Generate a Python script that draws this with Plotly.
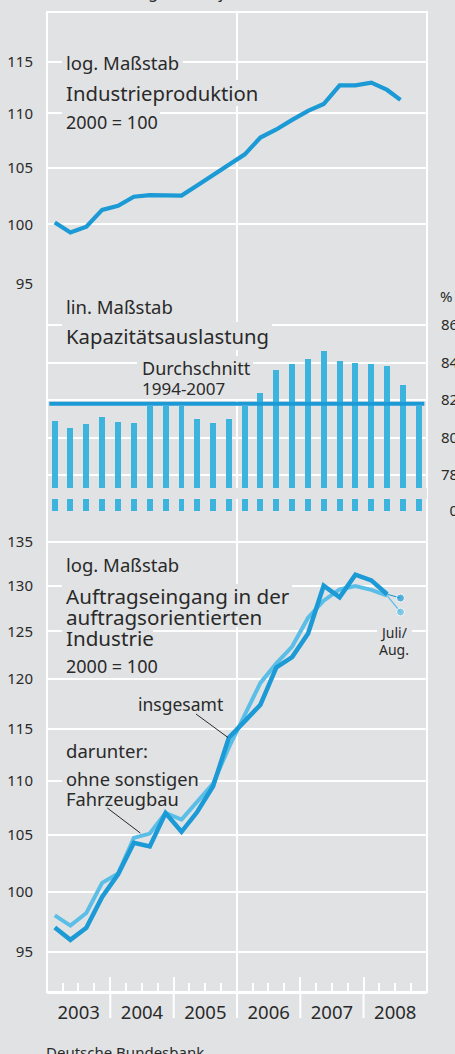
import math
import plotly.graph_objects as go

# ---------------- data ----------------
years = [2003, 2004, 2005, 2006, 2007, 2008]
quarters = [f"{y}Q{q}" for y in years for q in (1, 2, 3, 4)]
julaug = "2008-08-01"          # Juli/August 2008

# Industrieproduktion, 2000 = 100 (2003Q1 .. 2008Q2, then Juli/Aug.)
ip_values = [100.15, 99.3, 99.8, 101.25, 101.6, 102.4, 102.55, 102.55, 102.5,
             103.4, 104.3, 105.2, 106.2, 107.75, 108.5, 109.4, 110.25, 110.9,
             112.7, 112.7, 112.95, 112.25, 111.3]

# Kapazitätsauslastung in % (2003Q1 .. 2008Q4)
cap_values = [80.9, 80.5, 80.7, 81.1, 80.85, 80.8, 81.7, 81.7, 81.7, 81.0, 80.8, 81.0,
              81.7, 82.4, 83.6, 83.9, 84.2, 84.6, 84.1, 84.0, 83.9, 83.8, 82.8, 81.7]
cap_avg = 81.8   # Durchschnitt 1994-2007

# Auftragseingang, 2000 = 100 (2003Q1 .. 2008Q2)
ord_total = [97.0, 95.97, 96.96, 99.56, 101.52, 104.29, 103.96, 106.99, 105.28, 107.08,
             109.47, 114.12, 115.75, 117.39, 121.2, 122.29, 124.78, 130.0, 128.72,
             131.23, 130.59, 129.05]
ord_total_julaug = 128.63
ord_excl = [98.0, 97.15, 98.2, 100.77, 101.58, 104.73, 105.12, 107.0, 106.39, 108.0,
            109.72, 113.17, 116.4, 119.61, 121.62, 123.39, 126.48, 128.34, 129.58,
            129.95, 129.54, 128.89]
ord_excl_julaug = 127.1

ip_ticks = [95, 100, 105, 110, 115]
ord_ticks = [95, 100, 105, 110, 115, 120, 125, 130, 135]
cap_ticks = [78, 80, 82, 84, 86]
cap_tick_labels = ["78", "80", "82", "84", "86"]

# ---------------- helpers ----------------
MID = {1: "02-15", 2: "05-16", 3: "08-16", 4: "11-15"}
def qmid(q):
    y, n = q.split("Q")
    return f"{y}-{MID[int(n)]}"

q_dates = [qmid(q) for q in quarters]
n_ord = len(ord_total)
ip_dates = q_dates[:len(ip_values) - 1] + [julaug]

BG = "#e1e2e4"
DARK = "#1b9ad6"
LIGHT = "#5bbee6"
BARC = "#3db4de"
TXT = "#2a2a2a"
FONT = "Noto Sans"

# figure geometry (pixels)
W, H = 455, 1054
L, R, T, B = 47, 28, 12, 62
PW, PH = W - L - R, H - T - B
def xp(px):
    return (px - L) / PW
def yp(py):
    return (H - B - py) / PH

CAP_ZERO = 76.1  # position of the "0" label under the axis break

fig = go.Figure()

# middle: capacity bars
fig.add_trace(go.Bar(x=q_dates, y=cap_values, xaxis="x", yaxis="y2",
                     marker=dict(color=BARC, line=dict(width=0)),
                     width=2.95e9, showlegend=False, hoverinfo="skip"))

# top: industrial production
fig.add_trace(go.Scatter(x=ip_dates, y=ip_values, xaxis="x", yaxis="y",
                         mode="lines", line=dict(color=DARK, width=4.2),
                         showlegend=False))

# bottom: orders
fig.add_trace(go.Scatter(x=[q_dates[n_ord - 1], julaug], y=[ord_excl[-1], ord_excl_julaug],
                         xaxis="x", yaxis="y3", mode="lines+markers",
                         line=dict(color=LIGHT, width=1.2),
                         marker=dict(size=[0, 8], color=LIGHT), showlegend=False))
fig.add_trace(go.Scatter(x=[q_dates[n_ord - 1], julaug], y=[ord_total[-1], ord_total_julaug],
                         xaxis="x", yaxis="y3", mode="lines+markers",
                         line=dict(color=DARK, width=1.2),
                         marker=dict(size=[0, 8], color=DARK), showlegend=False))
fig.add_trace(go.Scatter(x=q_dates[:n_ord], y=ord_excl, xaxis="x", yaxis="y3",
                         mode="lines", line=dict(color=LIGHT, width=4),
                         showlegend=False))
fig.add_trace(go.Scatter(x=q_dates[:n_ord], y=ord_total, xaxis="x", yaxis="y3",
                         mode="lines", line=dict(color=DARK, width=4.5),
                         showlegend=False))

# ---------------- axes ----------------
common_y = dict(showgrid=True, gridcolor="white", gridwidth=2, zeroline=False,
                showline=False, ticks="outside", ticklen=10, tickcolor="rgba(0,0,0,0)",
                tickfont=dict(family=FONT, size=15, color=TXT), fixedrange=True,
                automargin=False)

top_dom = [yp(284), 1.0]
mid_dom = [yp(511), yp(284)]
bot_dom = [0.0, yp(511)]

top_range = [math.log10(95), math.log10(95) + 272 / 2678]
bot_lo = math.log10(95) - 40.3 / 2687
bot_range = [bot_lo, bot_lo + 481 / 2687]
mid_range = [76.08, 76.08 + 227 / 18.75]

fig.update_layout(
    width=W, height=H,
    margin=dict(l=L, r=R, t=T, b=B, autoexpand=False),
    paper_bgcolor=BG, plot_bgcolor=BG,
    font=dict(family=FONT, color=TXT),
    bargap=0,
    xaxis=dict(type="date", range=["2003-01-01", "2009-01-01"], anchor="y3",
               dtick="M12", tick0="2003-01-01", tickformat="%Y", ticklabelmode="period",
               ticks="inside", ticklen=15, tickwidth=2, tickcolor="white",
               showline=True, linecolor="white", linewidth=2, showgrid=False,
               zeroline=False, ticklabelstandoff=3, automargin=False,
               tickfont=dict(family=FONT, size=18.5, color=TXT),
               minor=dict(dtick="M3", ticks="inside", ticklen=9, tickwidth=2,
                          tickcolor="white", showgrid=False),
               fixedrange=True),
    yaxis=dict(type="log", domain=top_dom, range=top_range, anchor="x",
               tickvals=ip_ticks, ticktext=[str(v) for v in ip_ticks], **common_y),
    yaxis2=dict(type="linear", domain=mid_dom, range=mid_range, anchor="x", side="right",
                tickvals=[CAP_ZERO] + cap_ticks, ticktext=["\u20070"] + cap_tick_labels,
                **common_y),
    yaxis3=dict(type="log", domain=bot_dom, range=bot_range, anchor="x",
                tickvals=ord_ticks, ticktext=[str(v) for v in ord_ticks], **common_y),
)

# ---------------- shapes ----------------
shapes = []
# frame
shapes.append(dict(type="rect", xref="paper", yref="paper", x0=0, x1=1, y0=0, y1=1,
                   line=dict(color="white", width=2), layer="below"))
# vertical separator at 2006
shapes.append(dict(type="line", xref="x", yref="paper", x0="2006-01-01", x1="2006-01-01",
                   y0=0, y1=1, line=dict(color="white", width=2), layer="below"))
# year separators below the axis
for y in years[1:]:
    shapes.append(dict(type="line", xref="x", yref="paper", x0=f"{y}-01-01", x1=f"{y}-01-01",
                       y0=0, y1=yp(1018), line=dict(color="white", width=2)))

# background boxes behind the labels (hide gridlines like the original)
def box(x0, y0, x1, y1):
    shapes.append(dict(type="rect", xref="paper", yref="paper",
                       x0=xp(x0), x1=xp(x1), y0=yp(y1), y1=yp(y0),
                       fillcolor=BG, line=dict(width=0), layer="above"))

box(62, 51, 183, 75)      # log. Maßstab
box(62, 80, 262, 106)     # Industrieproduktion
box(62, 109, 160, 134)    # 2000 = 100
box(62, 295, 177, 318)    # lin. Maßstab
box(62, 322, 272, 350)    # Kapazitätsauslastung
box(137, 356, 253, 399)   # Durchschnitt 1994-2007
box(62, 552, 183, 576)    # log. Maßstab
box(62, 584, 292, 606)    # Auftragseingang in der
box(62, 606, 275, 627)    # auftragsorientierten
box(62, 627, 153, 648)    # Industrie
box(62, 655, 160, 677)    # 2000 = 100
box(133, 694, 228, 713)   # insgesamt
box(62, 740, 150, 760)    # darunter:
box(62, 768, 198, 789)    # ohne sonstigen
box(62, 789, 182, 808)    # Fahrzeugbau
box(377, 622, 412, 658)   # Juli/Aug.

# axis break band in the bar panel
shapes.append(dict(type="rect", xref="paper", yref="y2", x0=0.003, x1=1.0,
                   y0=76.72, y1=77.31, fillcolor=BG, line=dict(width=0), layer="above"))
# average line
shapes.append(dict(type="line", xref="paper", yref="y2", x0=0.006, x1=0.993,
                   y0=cap_avg, y1=cap_avg, line=dict(color=DARK, width=4), layer="above"))
# leader lines
shapes.append(dict(type="line", xref="paper", yref="paper", x0=xp(196), y0=yp(714),
                   x1=xp(228), y1=yp(737.5), line=dict(color=TXT, width=1)))
shapes.append(dict(type="line", xref="paper", yref="paper", x0=xp(107.3), y0=yp(808),
                   x1=xp(140.3), y1=yp(833), line=dict(color=TXT, width=1)))
fig.update_layout(shapes=shapes)

# ---------------- annotations ----------------
def label(text, px, py, size, anchor="left"):
    fig.add_annotation(text=text, xref="paper", yref="paper", x=xp(px), y=yp(py),
                       xanchor=anchor, yanchor="middle", showarrow=False,
                       font=dict(family=FONT, size=size, color=TXT), borderpad=0)

# top panel
label("log. Maßstab", 65, 63, 18.5)
label("Industrieproduktion", 65, 93, 20.3)
label("2000 = 100", 65, 122, 18)
# middle panel
label("lin. Maßstab", 65, 306, 18.5)
label("Kapazitätsauslastung", 65, 336, 20.3)
label("Durchschnitt", 141, 368, 18)
label("1994-2007", 141, 388, 17)
# bottom panel
label("log. Maßstab", 65, 564, 18.5)
label("Auftragseingang in der", 65, 596, 20.6)
label("auftragsorientierten", 65, 617, 20.6)
label("Industrie", 65, 638, 20.6)
label("2000 = 100", 65, 666, 18)
label("insgesamt", 137, 704, 17.5)
label("darunter:", 65, 750, 18.5)
label("ohne sonstigen", 65, 778, 18.3)
label("Fahrzeugbau", 65, 798, 18.3)
label("Juli/", 394, 632, 14, anchor="center")
label("Aug.", 394, 649, 14, anchor="center")
# units / header / source
label("%", 439, 296, 15)
fig.add_annotation(text="saisonbereinigt, vierteljährlich", xref="paper", yref="paper",
                   x=xp(47), y=yp(4), xanchor="left", yanchor="bottom", showarrow=False,
                   font=dict(family=FONT, size=16, color=TXT), borderpad=0)
label("Deutsche Bundesbank", 45, 1052, 15)

fig.write_html("out.html", config={"displayModeBar": False},
               post_script="document.body.style.margin='0px';")
